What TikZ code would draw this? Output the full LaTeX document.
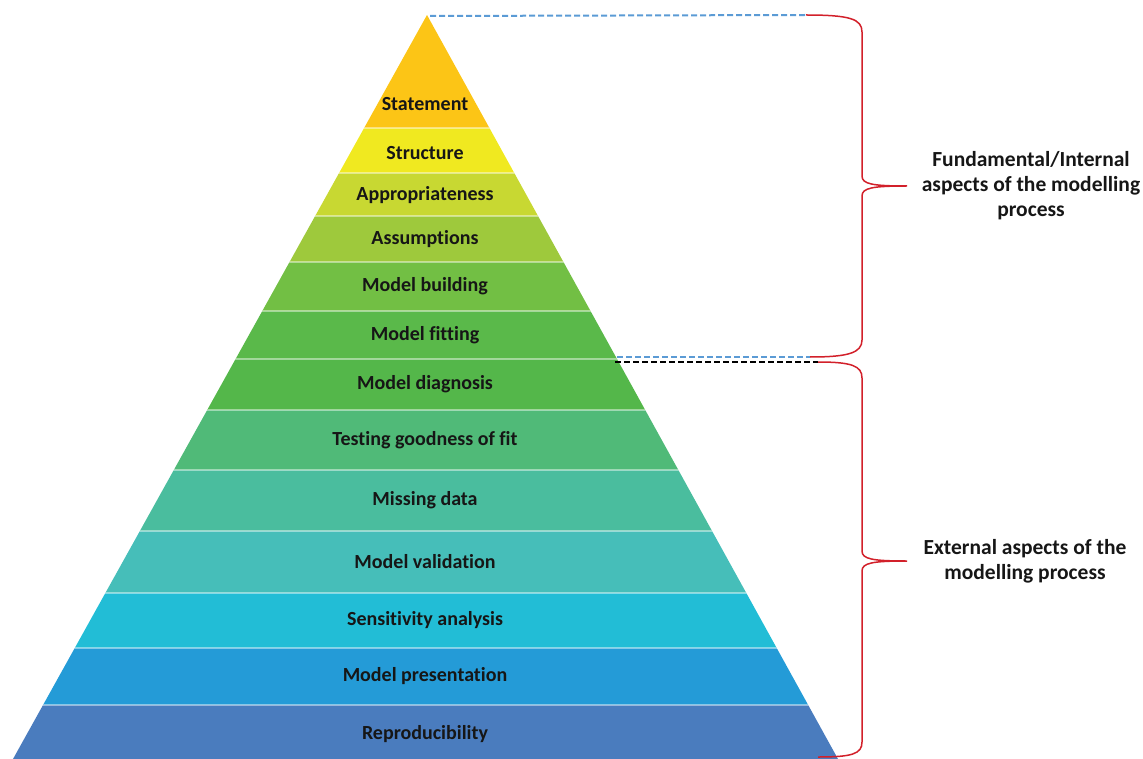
\documentclass[tikz,border=0pt]{standalone}
\usepackage{fontspec}
\setmainfont{Carlito}[Ligatures=CommonOff]
\usepackage{tikz}
\usetikzlibrary{positioning}

\definecolor{cStatement}{RGB}{252,197,22}
\definecolor{cStructure}{RGB}{240,233,32}
\definecolor{cAppropriate}{RGB}{200,216,50}
\definecolor{cAssumptions}{RGB}{158,201,60}
\definecolor{cBuilding}{RGB}{114,191,68}
\definecolor{cFitting}{RGB}{90,185,74}
\definecolor{cDiagnosis}{RGB}{84,183,74}
\definecolor{cTesting}{RGB}{80,186,120}
\definecolor{cMissing}{RGB}{74,189,158}
\definecolor{cValidation}{RGB}{70,190,185}
\definecolor{cSensitivity}{RGB}{34,189,214}
\definecolor{cPresentation}{RGB}{36,155,215}
\definecolor{cReproduce}{RGB}{74,124,190}
\definecolor{braceRed}{RGB}{210,32,42}
\definecolor{dashBlue}{RGB}{91,155,213}
\definecolor{labelInk}{RGB}{22,22,22}

\begin{document}
\begin{tikzpicture}[x=1pt,y=-1pt]
	\tikzstyle{LayerText} = [font=\bfseries\fontsize{20}{22}\selectfont, text=labelInk]
	\tikzstyle{SideText}  = [font=\bfseries\fontsize{21.5}{25}\selectfont, text=labelInk, align=center]
	\tikzstyle{BraceStyle} = [draw=braceRed, line width=1.5pt]
	\tikzstyle{DashStyle} = [line width=2pt, dash pattern=on 6pt off 3pt]
	\useasboundingbox (0,0) rectangle (1143,759);
	\coordinate (apex) at (427,15);
	\coordinate (bl) at (13,759);
	\coordinate (br) at (838,759);
	% layers of the pyramid
	\begin{scope}
		\clip (apex) -- (bl) -- (br) -- cycle;
		\foreach \ytop/\ybot/\col in {0/128/cStatement, 128/173/cStructure, 173/216/cAppropriate,
			216/262/cAssumptions, 262/311/cBuilding, 311/359/cFitting, 359/410/cDiagnosis,
			410/470/cTesting, 470/531/cMissing, 531/593/cValidation, 593/648/cSensitivity,
			648/705/cPresentation, 705/760/cReproduce}
			\fill[\col] (0,\ytop) rectangle (1143,\ybot);
		\foreach \y in {128,173,216,262,311,359,410,470,531,593,648,705}
			\draw[white, opacity=0.45, line width=1.2pt] (0,\y) -- (1143,\y);
	\end{scope}
	% labels
	\foreach \name/\y/\txt in {statement/104/Statement, structure/153/Structure,
		appropriate/195/Appropriateness, assumptions/239/Assumptions,
		building/286/Model building, fitting/335/Model fitting,
		diagnosis/384/Model diagnosis, testing/440/Testing goodness of fit,
		missing/500/Missing data, validation/562/Model validation,
		sensitivity/620/Sensitivity analysis, presentation/676/Model presentation,
		reproduce/734/Reproducibility}
		\node[LayerText] (\name) at (425,\y) {\txt};
	% dashed guides
	\coordinate (topL) at (430,16);
	\coordinate (topR) at (806,15);
	\coordinate (midL) at (617,357);
	\coordinate (midR) at (810,357);
	\coordinate (lowL) at (615,362);
	\coordinate (lowR) at (818,362);
	\draw[DashStyle, dashBlue] (topL) -- (topR);
	\draw[DashStyle, dashBlue] (midL) -- (midR);
	\draw[DashStyle, black] (lowL) -- (lowR);
	% braces
	\coordinate (tipA) at (907,186);
	\coordinate (tipB) at (907,561);
	\draw[BraceStyle] (topR) .. controls (850,15) and (862,19) .. (862,32) -- (862,176)
		.. controls (862,184) and (872,186) .. (tipA)
		.. controls (872,186) and (862,188) .. (862,196) -- (862,340)
		.. controls (862,353) and (848,357) .. (midR);
	\draw[BraceStyle] (lowR) .. controls (852,362) and (862,366) .. (862,378) -- (862,551)
		.. controls (862,559) and (872,561) .. (tipB)
		.. controls (872,561) and (862,563) .. (862,571) -- (862,742)
		.. controls (862,754) and (852,757) .. (818,757);
	% side texts
	\node[SideText] (internal) at (1031,186) {Fundamental/Internal\\aspects of the modelling\\process};
	\node[SideText] (external) at (1025,561) {External aspects of the\\modelling process};
\end{tikzpicture}
\end{document}
